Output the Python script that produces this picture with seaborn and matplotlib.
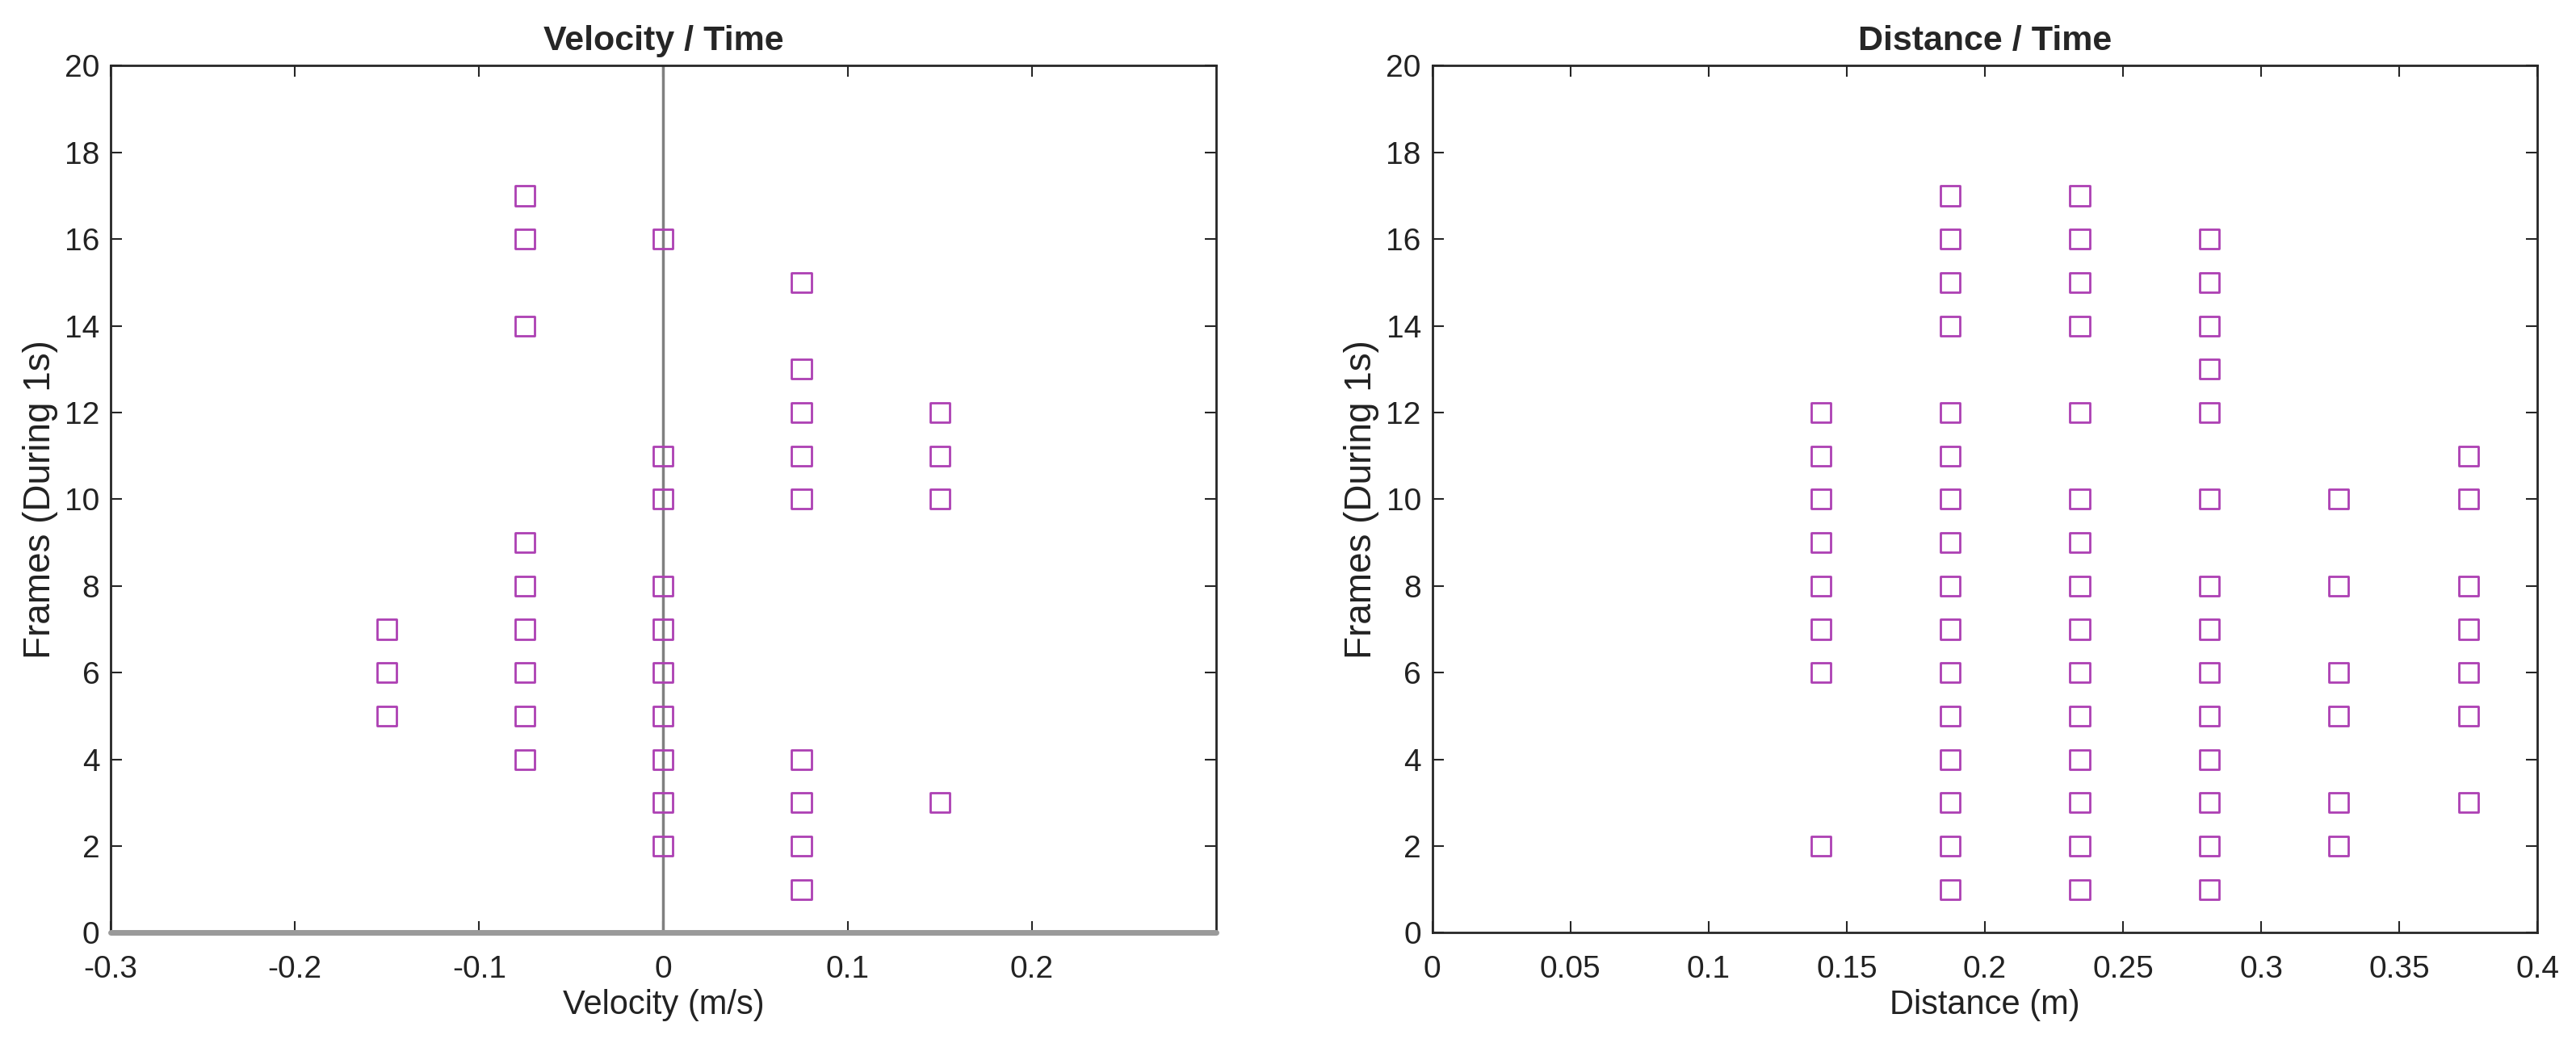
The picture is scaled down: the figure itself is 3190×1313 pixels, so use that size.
import numpy as np
import pandas as pd
import matplotlib.pyplot as plt
import seaborn as sns

# Velocity / Time data: one list of frame values per velocity column
vel_x = [-0.15, -0.075, 0.0, 0.075, 0.15]
vel_frames = [
    [5, 6, 7],
    [4, 5, 6, 7, 8, 9, 14, 16, 17],
    [2, 3, 4, 5, 6, 7, 8, 10, 11, 16],
    [1, 2, 3, 4, 10, 11, 12, 13, 15],
    [3, 10, 11, 12],
]

# Distance / Time data
dist_x = [0.140625, 0.1875, 0.234375, 0.28125, 0.328125, 0.375]
dist_frames = [
    [2, 6, 7, 8, 9, 10, 11, 12],
    [1, 2, 3, 4, 5, 6, 7, 8, 9, 10, 11, 12, 14, 15, 16, 17],
    [1, 2, 3, 4, 5, 6, 7, 8, 9, 10, 12, 14, 15, 16, 17],
    [1, 2, 3, 4, 5, 6, 7, 8, 10, 12, 13, 14, 15, 16],
    [2, 3, 5, 6, 8, 10],
    [3, 5, 6, 7, 8, 10, 11],
]

vel_ticks = [-0.3, -0.2, -0.1, 0, 0.1, 0.2]
vel_ticklabels = ["-0.3", "-0.2", "-0.1", "0", "0.1", "0.2"]
dist_ticks = [0, 0.05, 0.1, 0.15, 0.2, 0.25, 0.3, 0.35, 0.4]
dist_ticklabels = ["0", "0.05", "0.1", "0.15", "0.2", "0.25", "0.3", "0.35", "0.4"]
y_ticks = list(range(0, 21, 2))


def to_frame(xs, frames):
    rows = []
    for x, ys in zip(xs, frames):
        for y in ys:
            rows.append((x, y))
    return pd.DataFrame(rows, columns=["x", "frames"])


vel_df = to_frame(vel_x, vel_frames)
dist_df = to_frame(dist_x, dist_frames)

sns.set_theme(style="white")
plt.rcParams['font.family'] = ['Liberation Sans Narrow', 'Liberation Sans', 'DejaVu Sans']

mark_col = '#ad40b3'
axis_col = '#262626'

fig = plt.figure(figsize=(31.9, 13.13), dpi=100)
ax1 = fig.add_axes([0.043, 0.120, 0.429, 0.818])
ax2 = fig.add_axes([0.556, 0.120, 0.429, 0.818])


def style_axes(ax, title, xlabel, xticks, xticklabels, xlim):
    ax.set_xlim(*xlim)
    ax.set_ylim(0, 20)
    ax.set_xticks(xticks)
    ax.set_xticklabels(xticklabels)
    ax.set_yticks(y_ticks)
    ax.tick_params(direction='in', length=10, width=1.5, color=axis_col,
                   labelsize=28, top=True, right=True, bottom=True, left=True,
                   labelcolor='#222222')
    ax.tick_params(axis='x', pad=20)
    ax.tick_params(axis='y', pad=10)
    for sp in ax.spines.values():
        sp.set_color(axis_col)
        sp.set_linewidth(2)
    ax.set_title(title, fontsize=31, fontweight='bold', pad=14)
    ax.set_xlabel(xlabel, fontsize=30, labelpad=4, color='#222222')
    ax.set_ylabel("Frames (During 1s)", fontsize=33, labelpad=6,
                  family=['Liberation Sans', 'DejaVu Sans'], color='#222222')


# Left panel: velocity
ax1.axvline(0, color='#808080', lw=2.5, zorder=1)
ax1.axhline(0, color='#9a9a9a', lw=5, zorder=3, clip_on=False)
sns.scatterplot(data=vel_df, x="x", y="frames", ax=ax1, marker='s', s=300,
                facecolors='none', edgecolor=mark_col, linewidth=2, zorder=3)
style_axes(ax1, "Velocity / Time", "Velocity (m/s)", vel_ticks, vel_ticklabels, (-0.3, 0.3))

# Right panel: distance
sns.scatterplot(data=dist_df, x="x", y="frames", ax=ax2, marker='s', s=300,
                facecolors='none', edgecolor=mark_col, linewidth=2, zorder=3)
style_axes(ax2, "Distance / Time", "Distance (m)", dist_ticks, dist_ticklabels, (0, 0.4))

fig.savefig('out.png', dpi=100)
